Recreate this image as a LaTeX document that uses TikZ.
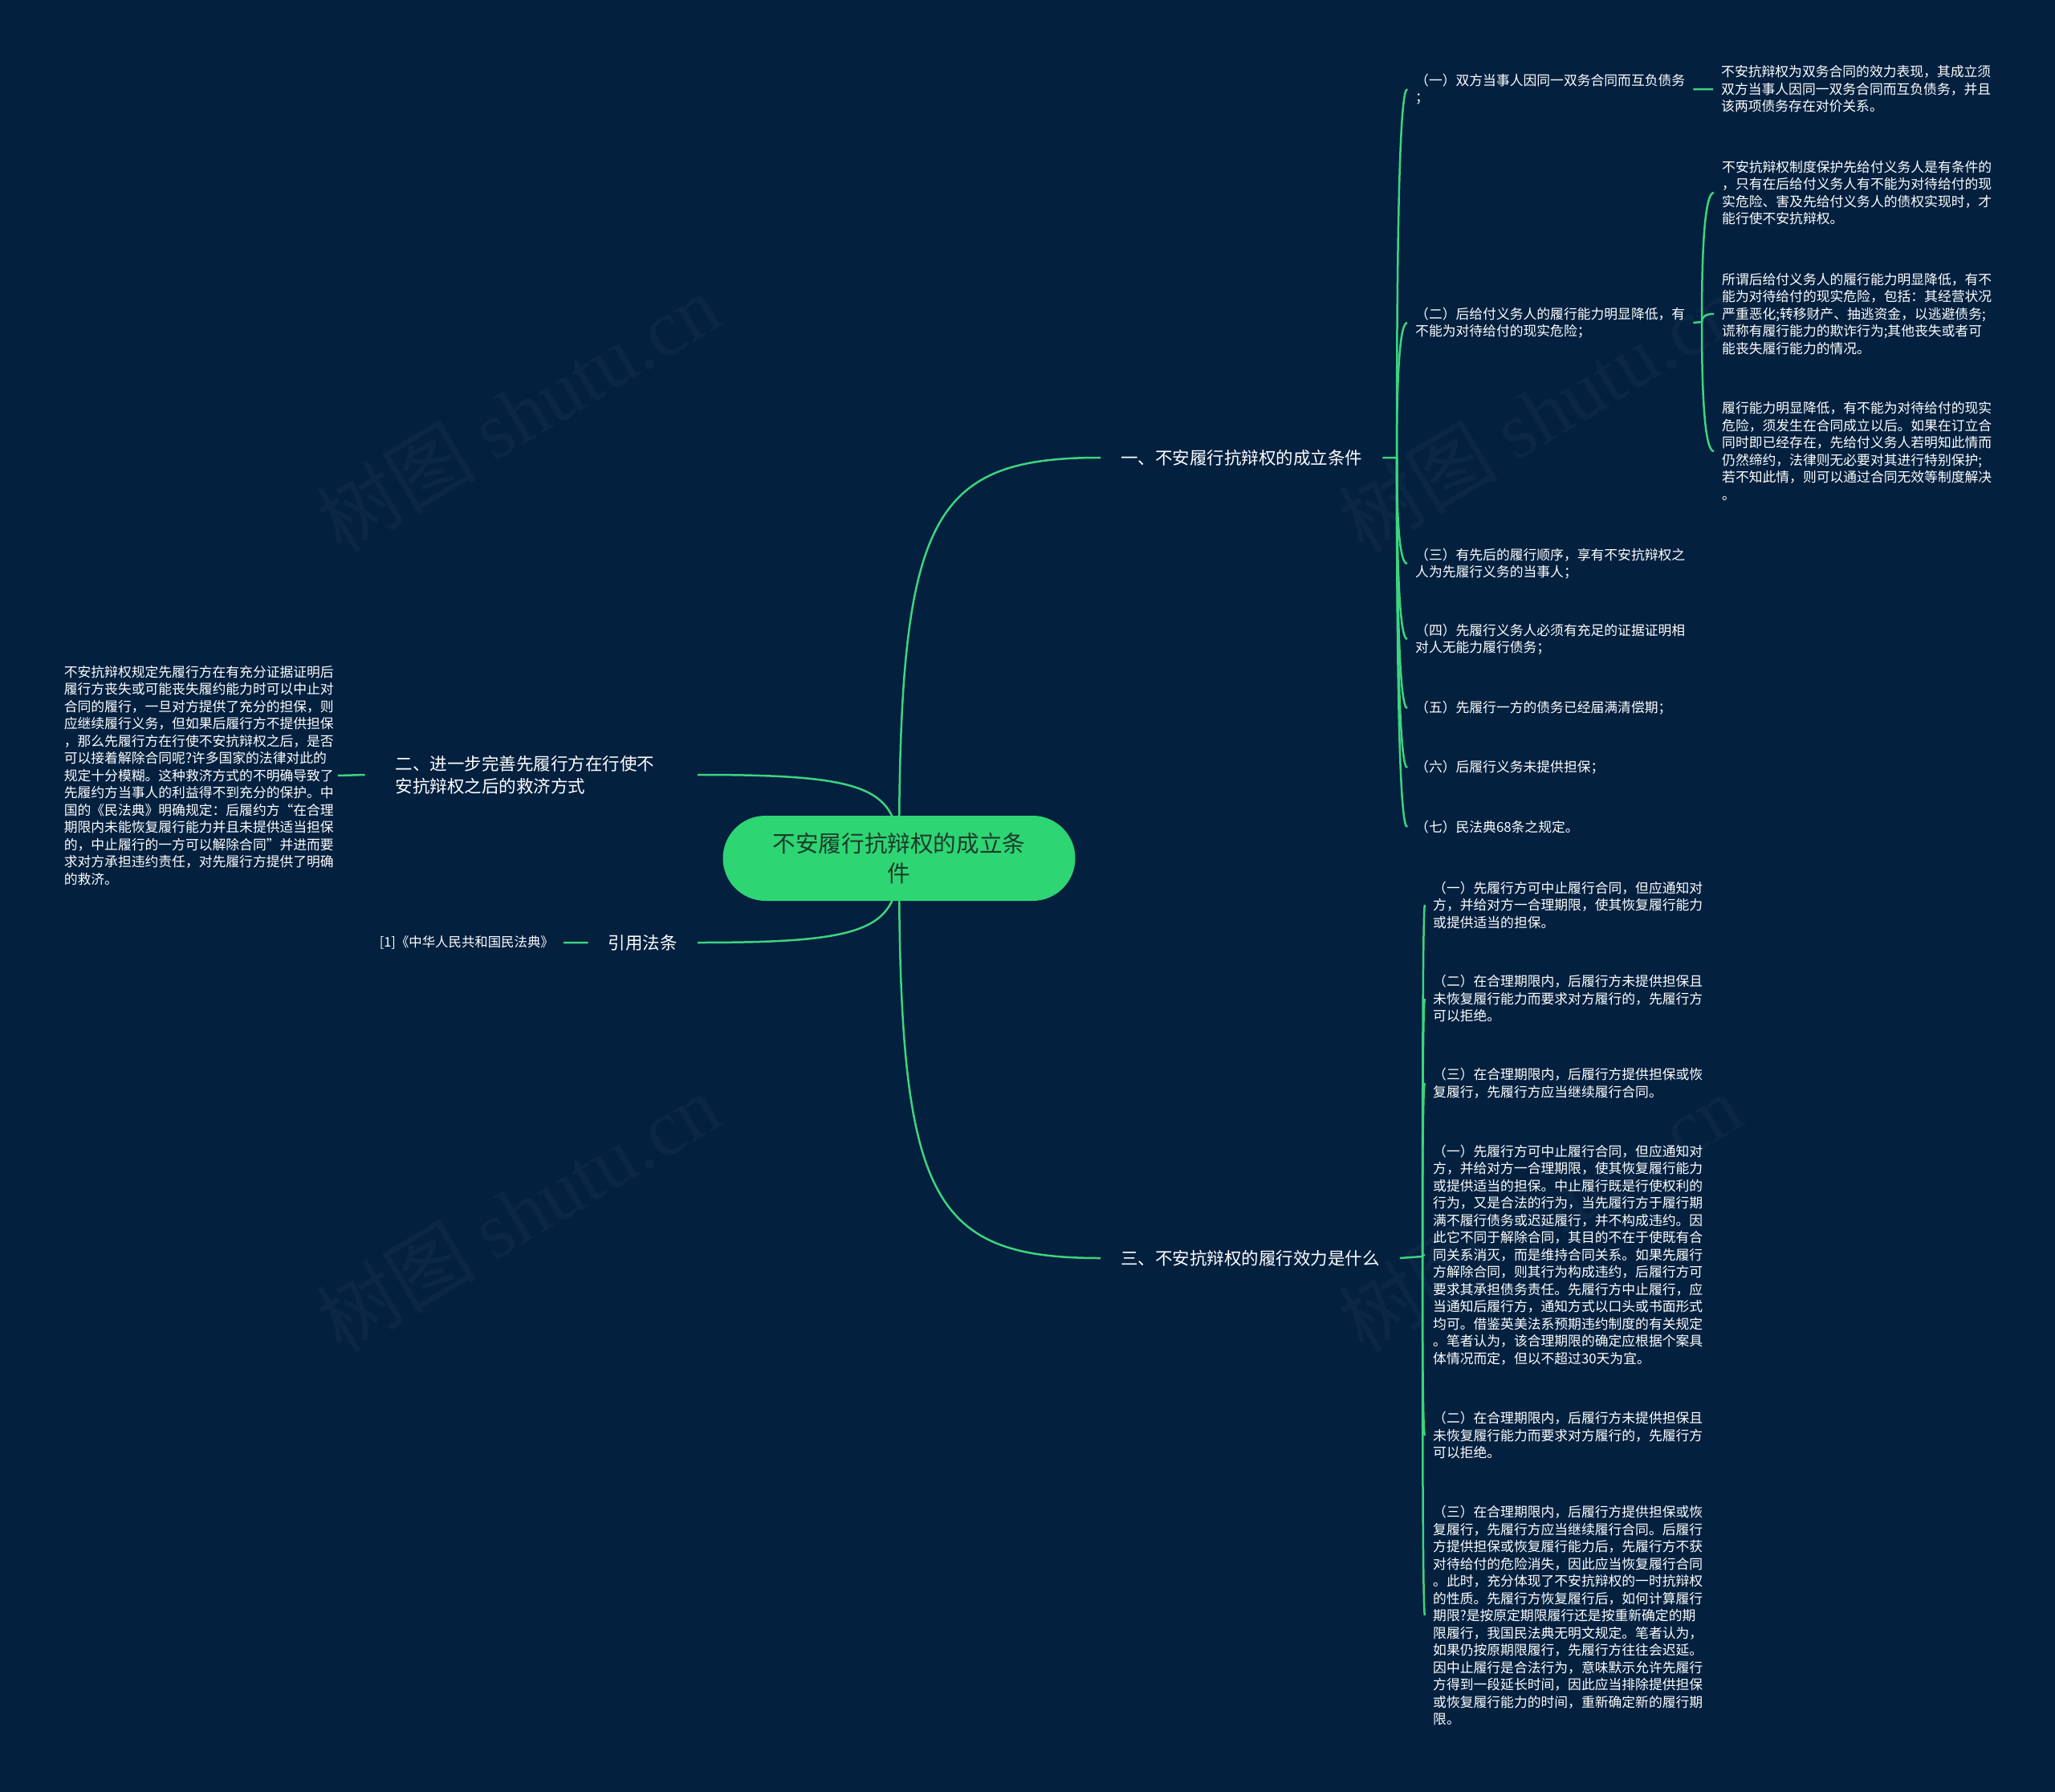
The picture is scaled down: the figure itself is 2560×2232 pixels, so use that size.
\documentclass[tikz,border=0pt]{standalone}
\usepackage{fontspec}
\setmainfont{Noto Sans CJK SC}
\newfontfamily\markfont{Liberation Serif}
\usetikzlibrary{calc}
\definecolor{navy}{HTML}{03203F}
\definecolor{leaf}{HTML}{3DD47E}
\definecolor{rootfill}{HTML}{2ED573}
\definecolor{rootink}{HTML}{1B3B2B}
\pgfdeclarelayer{back}
\pgfdeclarelayer{wires}
\pgfsetlayers{back,wires,main}

\begin{document}
\begin{tikzpicture}[x=1pt,y=-1pt,
  every node/.style={text=white},
  twig/.style={anchor=west,align=left,inner xsep=10pt,inner ysep=3pt,font=\fontsize{16.8}{21.5}\selectfont},
  bough/.style={align=left,inner xsep=25pt,inner ysep=4pt,font=\fontsize{21.5}{28}\selectfont},
  wire/.style={draw=leaf,line width=2.5pt},
  kid/.style={to path={.. controls ($(\tikztostart)!0.667!(\tikztostart|-\tikztotarget)$) and ($(\tikztotarget)!0.667!(\tikztostart|-\tikztotarget)$) .. (\tikztotarget)}},
  limb/.style={to path={.. controls ($(\tikztostart)!0.85!(\tikztostart|-\tikztotarget)$) and ($(\tikztotarget)!0.85!(\tikztostart|-\tikztotarget)$) .. (\tikztotarget)}}]
  \useasboundingbox (0,0) rectangle (2560,2232);
  \begin{pgfonlayer}{back}
    \fill[navy] (0,0) rectangle (2560,2232);
    \foreach \wx/\wy [count=\w] in {645/514,1918/514,645/1510,1918/1510}
      \node[rotate=31,opacity=0.035,font=\fontsize{100}{100}\selectfont] (wm\w) at (\wx,\wy) {树图 {\markfont shutu.cn}};
  \end{pgfonlayer}

  % centre
  \node[fill=rootfill,text=rootink,rounded corners=53pt,minimum width=439pt,minimum height=106pt,
    align=center,font=\fontsize{28.6}{37}\selectfont] (root) at (1120,1069) {不安履行抗辩权的成立条\\件};

  % main branches
  \node[bough,anchor=west] (b1) at (1371,570) {一、不安履行抗辩权的成立条件};
  \node[bough,anchor=west] (b3) at (1371,1567) {三、不安抗辩权的履行效力是什么};
  \node[bough,anchor=east,text width=338pt,inner xsep=38pt] (b2) at (869,965)
    {二、进一步完善先履行方在行使不\\安抗辩权之后的救济方式};
  \node[bough,anchor=east] (b4) at (869,1174) {引用法条};

  % left side
  \node[twig,anchor=east,inner xsep=12pt,font=\fontsize{16.4}{20}\selectfont] (law) at (702,1174) {[1]《中华人民共和国民法典》};
  \node[twig,anchor=east,inner xsep=5pt] (fix) at (421,966)
    {不安抗辩权规定先履行方在有充分证据证明后\\履行方丧失或可能丧失履约能力时可以中止对\\合同的履行，一旦对方提供了充分的担保，则\\应继续履行义务，但如果后履行方不提供担保\\，那么先履行方在行使不安抗辩权之后，是否\\可以接着解除合同呢?许多国家的法律对此的\\规定十分模糊。这种救济方式的不明确导致了\\先履约方当事人的利益得不到充分的保护。中\\国的《民法典》明确规定：后履约方“在合理\\期限内未能恢复履行能力并且未提供适当担保\\的，中止履行的一方可以解除合同”并进而要\\求对方承担违约责任，对先履行方提供了明确\\的救济。};

  % conditions
  \coordinate (p1) at (1740,570);
  \node[twig] (c1) at (1753,111) {（一）双方当事人因同一双务合同而互负债务\\；};
  \node[twig] (c2) at (1753,402) {（二）后给付义务人的履行能力明显降低，有\\不能为对待给付的现实危险；};
  \node[twig] (c3) at (1753,702) {（三）有先后的履行顺序，享有不安抗辩权之\\人为先履行义务的当事人；};
  \node[twig] (c4) at (1753,796) {（四）先履行义务人必须有充足的证据证明相\\对人无能力履行债务；};
  \node[twig] (c5) at (1753,882) {（五）先履行一方的债务已经届满清偿期；};
  \node[twig] (c6) at (1753,956) {（六）后履行义务未提供担保；};
  \node[twig] (c7) at (1753,1030) {（七）民法典68条之规定。};

  \node[twig] (d0) at (2134,111) {不安抗辩权为双务合同的效力表现，其成立须\\双方当事人因同一双务合同而互负债务，并且\\该两项债务存在对价关系。};
  \coordinate (p2) at (2120,401);
  \node[twig] (d1) at (2135,240) {不安抗辩权制度保护先给付义务人是有条件的\\，只有在后给付义务人有不能为对待给付的现\\实危险、害及先给付义务人的债权实现时，才\\能行使不安抗辩权。};
  \node[twig] (d2) at (2135,391) {所谓后给付义务人的履行能力明显降低，有不\\能为对待给付的现实危险，包括：其经营状况\\严重恶化;转移财产、抽逃资金，以逃避债务;\\谎称有履行能力的欺诈行为;其他丧失或者可\\能丧失履行能力的情况。};
  \node[twig] (d3) at (2135,562) {履行能力明显降低，有不能为对待给付的现实\\危险，须发生在合同成立以后。如果在订立合\\同时即已经存在，先给付义务人若明知此情而\\仍然缔约，法律则无必要对其进行特别保护;\\若不知此情，则可以通过合同无效等制度解决\\。};

  % effects
  \coordinate (p3) at (1772,1565);
  \node[twig] (e1) at (1775,1127) {（一）先履行方可中止履行合同，但应通知对\\方，并给对方一合理期限，使其恢复履行能力\\或提供适当的担保。};
  \node[twig] (e2) at (1775,1244) {（二）在合理期限内，后履行方未提供担保且\\未恢复履行能力而要求对方履行的，先履行方\\可以拒绝。};
  \node[twig] (e3) at (1775,1349) {（三）在合理期限内，后履行方提供担保或恢\\复履行，先履行方应当继续履行合同。};
  \node[twig] (e4) at (1775,1563) {（一）先履行方可中止履行合同，但应通知对\\方，并给对方一合理期限，使其恢复履行能力\\或提供适当的担保。中止履行既是行使权利的\\行为，又是合法的行为，当先履行方于履行期\\满不履行债务或迟延履行，并不构成违约。因\\此它不同于解除合同，其目的不在于使既有合\\同关系消灭，而是维持合同关系。如果先履行\\方解除合同，则其行为构成违约，后履行方可\\要求其承担债务责任。先履行方中止履行，应\\当通知后履行方，通知方式以口头或书面形式\\均可。借鉴英美法系预期违约制度的有关规定\\。笔者认为，该合理期限的确定应根据个案具\\体情况而定，但以不超过30天为宜。};
  \node[twig] (e5) at (1775,1788) {（二）在合理期限内，后履行方未提供担保且\\未恢复履行能力而要求对方履行的，先履行方\\可以拒绝。};
  \node[twig] (e6) at (1775,2012) {（三）在合理期限内，后履行方提供担保或恢\\复履行，先履行方应当继续履行合同。后履行\\方提供担保或恢复履行能力后，先履行方不获\\对待给付的危险消失，因此应当恢复履行合同\\。此时，充分体现了不安抗辩权的一时抗辩权\\的性质。先履行方恢复履行后，如何计算履行\\期限?是按原定期限履行还是按重新确定的期\\限履行，我国民法典无明文规定。笔者认为，\\如果仍按原期限履行，先履行方往往会迟延。\\因中止履行是合法行为，意味默示允许先履行\\方得到一段延长时间，因此应当排除提供担保\\或恢复履行能力的时间，重新确定新的履行期\\限。};

  \begin{pgfonlayer}{wires}
    \draw[wire] (root.center) to[limb] (b1.west) (root.center) to[limb] (b3.west)
      (root.center) to[limb] (b2.east) (root.center) to[limb] (b4.east);
    \draw[wire] (b1.east) -- (p1) (b3.east) -- (p3) (b4.west) -- (law.east)
      (fix.east) -- (b2.west) (c1.east) -- (d0.west) (c2.east) -- (p2);
    \foreach \k in {c1,c2,c3,c4,c5,c6,c7}
      \draw[wire] (p1) to[kid] (\k.west);
    \foreach \k in {d1,d2,d3}
      \draw[wire] (p2) to[kid] (\k.west);
    \foreach \k in {e1,e2,e3,e4,e5,e6}
      \draw[wire] (p3) to[kid] (\k.west);
  \end{pgfonlayer}
\end{tikzpicture}
\end{document}
